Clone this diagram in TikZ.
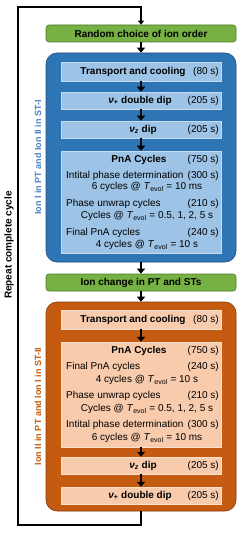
\documentclass[tikz,border=0pt]{standalone}
\usepackage{fontspec}
\setmainfont{Liberation Sans}
\usepackage{tikz}
\usetikzlibrary{arrows.meta, positioning, calc}
\usepackage{xcolor}
\definecolor{cyclegreen}{RGB}{119,176,67}
\definecolor{cyclegreendark}{RGB}{78,122,44}
\definecolor{stageblue}{RGB}{46,117,182}
\definecolor{stagebluedark}{RGB}{31,78,121}
\definecolor{lightblue}{RGB}{157,195,230}
\definecolor{labelblue}{RGB}{72,130,200}
\definecolor{stageorange}{RGB}{197,90,17}
\definecolor{stageorangedark}{RGB}{132,60,12}
\definecolor{lightorange}{RGB}{248,203,173}

\tikzset{
  greenbox/.style={draw=cyclegreendark, fill=cyclegreen, rounded corners=3pt, line width=0.6pt,
    minimum width=190pt, minimum height=17pt, inner sep=0pt, font=\bfseries},
  stagebox/.style={rounded corners=11pt, line width=0.6pt, minimum width=190pt,
    minimum height=209pt, inner sep=0pt},
  stepbox/.style={minimum width=160pt, minimum height=17pt, inner sep=0pt, line width=0.5pt},
  title/.style={font=\bfseries, inner sep=0pt},
  txt/.style={inner sep=0pt},
  flow/.style={line width=2.6pt, -{Triangle[width=8pt,length=5pt]}},
  cycle/.style={line width=1.6pt, -{Triangle[width=6pt,length=4pt]}},
  sidelabel/.style={rotate=90, font=\fontsize{9}{11}\selectfont\bfseries, inner sep=0pt}
}

\begin{document}
\begin{tikzpicture}[x=1pt, y=-1pt]
  \useasboundingbox (0,0) rectangle (249,534);
  % first ion order
  \node[greenbox] (order) at (141,33.5) {Random choice of ion order};

  % stage I (blue)
  \node[stagebox, draw=stagebluedark, fill=stageblue] (stageI) at (141,157.5) {};
  \node[sidelabel, labelblue] (stageIlabel) at (38,157.5) {Ion I in PT and Ion II in ST-I};
  \node[stepbox, draw=lightblue!60!white, fill=lightblue, minimum height=19pt] (transI) at (141,71.5) {};
  \node[title] (transItitle) at (133,71.5) {Transport and cooling};
  \node[txt, anchor=east] (transItime) at (219,71.5) {(80 s)};
  \node[stepbox, draw=lightblue!60!white, fill=lightblue] (plusI) at (141,100.5) {};
  \node[title] (plusItitle) at (140,100.5) {\textit{ν}\textsubscript{+} double dip};
  \node[txt, anchor=east] (plusItime) at (219,100.5) {(205 s)};
  \node[stepbox, draw=lightblue!60!white, fill=lightblue] (zI) at (141,129.5) {};
  \node[title] (zItitle) at (143,129.5) {\textit{ν}\textsubscript{\textit{z}} dip};
  \node[txt, anchor=east] (zItime) at (219,129.5) {(205 s)};
  \node[stepbox, draw=lightblue!60!white, fill=lightblue, minimum height=102pt] (pnaI) at (141,202) {};
  \node[title] (pnaItitle) at (139,160) {PnA Cycles};
  \node[txt, anchor=east] (pnaItime) at (219,160) {(750 s)};
  \node[txt, anchor=west] (initI) at (66,176) {Intital phase determination};
  \node[txt, anchor=east] (initItime) at (219,176) {(300 s)};
  \node[txt] (initIcyc) at (147,187) {6 cycles @ \textit{T}\textsubscript{evol} = 10 ms};
  \node[txt, anchor=west] (unwrapI) at (66,204) {Phase unwrap cycles};
  \node[txt, anchor=east] (unwrapItime) at (219,204) {(210 s)};
  \node[txt] (unwrapIcyc) at (147,216) {Cycles @ \textit{T}\textsubscript{evol} = 0.5, 1, 2, 5 s};
  \node[txt, anchor=west] (finalI) at (66,233) {Final PnA cycles};
  \node[txt, anchor=east] (finalItime) at (219,233) {(240 s)};
  \node[txt] (finalIcyc) at (147,245) {4 cycles @ \textit{T}\textsubscript{evol} = 10 s};

  % ion change
  \node[greenbox] (change) at (141,282.5) {Ion change in PT and STs};

  % stage II (orange)
  \node[stagebox, draw=stageorangedark, fill=stageorange] (stageII) at (141,406.5) {};
  \node[sidelabel, stageorange] (stageIIlabel) at (38,406.5) {Ion II in PT and Ion I in ST-II};
  \node[stepbox, draw=lightorange!60!white, fill=lightorange, minimum height=19pt] (transII) at (141,319.5) {};
  \node[title] (transIItitle) at (133,319.5) {Transport and cooling};
  \node[txt, anchor=east] (transIItime) at (219,319.5) {(80 s)};
  \node[stepbox, draw=lightorange!60!white, fill=lightorange, minimum height=105pt] (pnaII) at (141,394.5) {};
  \node[title] (pnaIItitle) at (139,351) {PnA Cycles};
  \node[txt, anchor=east] (pnaIItime) at (219,351) {(750 s)};
  \node[txt, anchor=west] (finalII) at (66,367) {Final PnA cycles};
  \node[txt, anchor=east] (finalIItime) at (219,367) {(240 s)};
  \node[txt] (finalIIcyc) at (147,380) {4 cycles @ \textit{T}\textsubscript{evol} = 10 s};
  \node[txt, anchor=west] (unwrapII) at (66,396) {Phase unwrap cycles};
  \node[txt, anchor=east] (unwrapIItime) at (219,396) {(210 s)};
  \node[txt] (unwrapIIcyc) at (147,409) {Cycles @ \textit{T}\textsubscript{evol} = 0.5, 1, 2, 5 s};
  \node[txt, anchor=west] (initII) at (66,425) {Intital phase determination};
  \node[txt, anchor=east] (initIItime) at (219,425) {(300 s)};
  \node[txt] (initIIcyc) at (147,438) {6 cycles @ \textit{T}\textsubscript{evol} = 10 ms};
  \node[stepbox, draw=lightorange!60!white, fill=lightorange] (zII) at (141,465.5) {};
  \node[title] (zIItitle) at (143,465.5) {\textit{ν}\textsubscript{\textit{z}} dip};
  \node[txt, anchor=east] (zIItime) at (219,465.5) {(205 s)};
  \node[stepbox, draw=lightorange!60!white, fill=lightorange] (plusII) at (141,495.5) {};
  \node[title] (plusIItitle) at (140,495.5) {\textit{ν}\textsubscript{+} double dip};
  \node[txt, anchor=east] (plusIItime) at (219,495.5) {(205 s)};

  % flow arrows
  \draw[flow] (order) -- (stageI);
  \draw[flow] (transI) -- (plusI);
  \draw[flow] (plusI) -- (zI);
  \draw[flow] (zI) -- (pnaI);
  \draw[flow] (stageI) -- (change);
  \draw[flow] (change) -- (stageII);
  \draw[flow] (transII) -- (pnaII);
  \draw[flow] (pnaII) -- (zII);
  \draw[flow] (zII) -- (plusII);

  % repeat loop
  \coordinate (loopBL) at (18,525);
  \coordinate (loopTL) at (18,7);
  \draw[cycle] (stageII.south) |- (loopBL) -- (loopTL) -| (order.north);
  \node[rotate=90, font=\bfseries, inner sep=0pt] (repeat) at (9,245) {Repeat complete cycle};
\end{tikzpicture}
\end{document}
